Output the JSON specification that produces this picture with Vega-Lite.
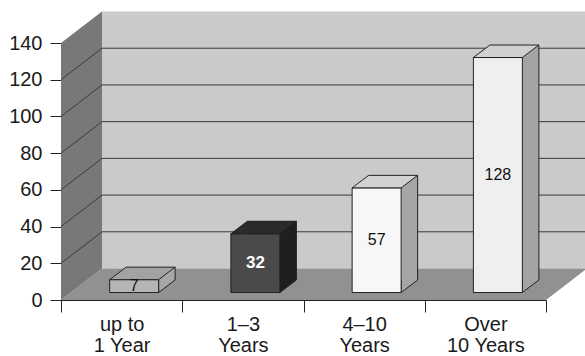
{
  "$schema": "https://vega.github.io/schema/vega-lite/v6.json",
  "width": 485,
  "height": 257,
  "autosize": {"type": "none"},
  "padding": {"left": 61, "top": 43, "right": 39, "bottom": 56},
  "background": "white",
  "config": {
    "view": {"stroke": null},
    "axis": {"grid": false, "labelFont": "Liberation Sans", "labelFontSize": 20, "labelColor": "#1a1a1a", "tickColor": "#222", "domainColor": "#222"}
  },
  "datasets": {
    "counts": [
      {"tenure": "up to 1 Year", "lawyers": 7},
      {"tenure": "1–3 Years", "lawyers": 32},
      {"tenure": "4–10 Years", "lawyers": 57},
      {"tenure": "Over 10 Years", "lawyers": 128}
    ],
    "wall": [{"left": 0, "right": 4, "lo": 0, "hi": 140}],
    "sideWall": [{"depth": 0, "lo": 0, "hi": 140}, {"depth": 0.338, "lo": 17.16, "hi": 157.16}],
    "floor": [{"level": 0, "left": 0, "right": 4}, {"level": 17.16, "left": 0.338, "right": 4.338}],
    "gridlines": [{"v": 20}, {"v": 40}, {"v": 60}, {"v": 80}, {"v": 100}, {"v": 120}]
  },
  "layer": [
    {
      "layer": [
        {
          "data": {"name": "wall"},
          "mark": {"type": "rect", "fill": "#cacaca", "xOffset": 41, "x2Offset": 41, "yOffset": -31.5, "y2Offset": -31.5},
          "encoding": {
            "x": {"field": "left", "type": "quantitative", "scale": {"domain": [0, 4], "nice": false, "zero": false}, "axis": null},
            "x2": {"field": "right"},
            "y": {"field": "lo", "type": "quantitative", "scale": {"domain": [0, 140], "nice": false},
                  "axis": {"values": [0, 20, 40, 60, 80, 100, 120, 140], "tickSize": 11, "labelPadding": 8, "title": null}},
            "y2": {"field": "hi"}
          }
        },
        {
          "data": {"name": "floor"},
          "mark": {"type": "area", "orient": "horizontal", "fill": "#919191"},
          "encoding": {
            "y": {"field": "level", "type": "quantitative", "scale": {"domain": [0, 140], "nice": false},
                  "axis": {"values": [0, 20, 40, 60, 80, 100, 120, 140], "tickSize": 11, "labelPadding": 8, "title": null}},
            "x": {"field": "left", "type": "quantitative", "scale": {"domain": [0, 4], "nice": false, "zero": false}, "axis": null},
            "x2": {"field": "right"}
          }
        },
        {
          "data": {"name": "sideWall"},
          "mark": {"type": "area", "orient": "vertical", "fill": "#787878"},
          "encoding": {
            "x": {"field": "depth", "type": "quantitative", "scale": {"domain": [0, 4], "nice": false, "zero": false}, "axis": null},
            "y": {"field": "lo", "type": "quantitative", "scale": {"domain": [0, 140], "nice": false},
                  "axis": {"values": [0, 20, 40, 60, 80, 100, 120, 140], "tickSize": 11, "labelPadding": 8, "title": null}},
            "y2": {"field": "hi"}
          }
        },
        {
          "data": {"name": "gridlines"},
          "mark": {"type": "rule", "color": "#3a3a3a", "strokeWidth": 1, "xOffset": 41, "x2Offset": 41, "yOffset": -31.5, "y2Offset": -31.5},
          "encoding": {
            "x": {"datum": 0, "type": "quantitative", "scale": {"domain": [0, 4], "nice": false, "zero": false}, "axis": null},
            "x2": {"datum": 4},
            "y": {"field": "v", "type": "quantitative", "scale": {"domain": [0, 140], "nice": false},
                  "axis": {"values": [0, 20, 40, 60, 80, 100, 120, 140], "tickSize": 11, "labelPadding": 8, "title": null}},
            "y2": {"field": "v"}
          }
        },
        {
          "data": {"name": "gridlines"},
          "mark": {"type": "rule", "color": "#3a3a3a", "strokeWidth": 1, "x2Offset": 41, "y2Offset": -31.5},
          "encoding": {
            "x": {"datum": 0, "type": "quantitative", "scale": {"domain": [0, 4], "nice": false, "zero": false}, "axis": null},
            "x2": {"datum": 0},
            "y": {"field": "v", "type": "quantitative", "scale": {"domain": [0, 140], "nice": false},
                  "axis": {"values": [0, 20, 40, 60, 80, 100, 120, 140], "tickSize": 11, "labelPadding": 8, "title": null}},
            "y2": {"field": "v"}
          }
        }
      ]
    },
    {
      "data": {"name": "counts"},
      "encoding": {
        "x": {
          "field": "tenure", "type": "nominal", "sort": null,
          "scale": {"domain": ["up to 1 Year", "1–3 Years", "4–10 Years", "Over 10 Years"], "paddingInner": 0, "paddingOuter": 0},
          "axis": {
            "tickBand": "extent", "tickSize": 12, "labelPadding": 2, "labelLineHeight": 21, "labelAngle": 0, "title": null,
            "labelExpr": "!isString(datum.value) ? '' : datum.value == 'up to 1 Year' ? ['up to', '1 Year'] : datum.value == 'Over 10 Years' ? ['Over', '10 Years'] : split(datum.value, ' ')"
          }
        }
      },
      "layer": [
        {
          "mark": {"type": "bar", "width": 49, "xOffset": 29, "yOffset": -20, "y2Offset": -20},
          "encoding": {
            "y": {"field": "lawyers", "type": "quantitative", "scale": {"domain": [0, 140], "nice": false}, "axis": null},
            "fill": {"field": "tenure", "type": "nominal", "legend": null,
                     "scale": {"domain": ["up to 1 Year", "1–3 Years", "4–10 Years", "Over 10 Years"], "range": ["#a7a7a7", "#1f1f1f", "#a6a6a6", "#a4a4a4"]}}
          }
        },
        {
          "mark": {"type": "point", "shape": "M24.5,-12.5L24.5,0L41,-12.5", "size": 4, "opacity": 1, "stroke": "#222", "strokeWidth": 1, "xOffset": 12.5, "yOffset": -7.5},
          "encoding": {
            "y": {"datum": 0, "type": "quantitative", "scale": {"domain": [0, 140], "nice": false}, "axis": null},
            "fill": {"field": "tenure", "type": "nominal", "legend": null,
                     "scale": {"domain": ["up to 1 Year", "1–3 Years", "4–10 Years", "Over 10 Years"], "range": ["#a7a7a7", "#1f1f1f", "#a6a6a6", "#a4a4a4"]}}
          }
        },
        {
          "mark": {"type": "rule", "color": "#222", "strokeWidth": 1, "xOffset": 53.5, "yOffset": -20, "y2Offset": -20},
          "encoding": {
            "y": {"field": "lawyers", "type": "quantitative", "scale": {"domain": [0, 140], "nice": false}, "axis": null},
            "y2": {"datum": 0}
          }
        },
        {
          "mark": {"type": "bar", "width": 49, "stroke": "#222", "strokeWidth": 1, "xOffset": 12.5, "yOffset": -7.5, "y2Offset": -7.5},
          "encoding": {
            "y": {"field": "lawyers", "type": "quantitative", "scale": {"domain": [0, 140], "nice": false}, "axis": null},
            "fill": {"field": "tenure", "type": "nominal", "legend": null,
                     "scale": {"domain": ["up to 1 Year", "1–3 Years", "4–10 Years", "Over 10 Years"], "range": ["#b5b5b5", "#4a4a4a", "#f7f7f7", "#efefef"]}}
          }
        },
        {
          "mark": {"type": "point", "shape": "M-24.5,0L24.5,0L41,-12.5L-8,-12.5Z", "size": 4, "opacity": 1, "stroke": "#222", "strokeWidth": 1, "xOffset": 12.5, "yOffset": -7.5},
          "encoding": {
            "y": {"field": "lawyers", "type": "quantitative", "scale": {"domain": [0, 140], "nice": false}, "axis": null},
            "fill": {"field": "tenure", "type": "nominal", "legend": null,
                     "scale": {"domain": ["up to 1 Year", "1–3 Years", "4–10 Years", "Over 10 Years"], "range": ["#a2a2a2", "#2b2b2b", "#d2d2d2", "#d0d0d0"]}}
          }
        }
      ],
      "resolve": {"scale": {"fill": "independent"}}
    },
    {
      "data": {"name": "counts"},
      "encoding": {
        "x": {"field": "tenure", "type": "nominal", "sort": null,
              "scale": {"domain": ["up to 1 Year", "1–3 Years", "4–10 Years", "Over 10 Years"], "paddingInner": 0, "paddingOuter": 0}, "axis": null},
        "y": {"field": "lawyers", "type": "quantitative", "scale": {"domain": [0, 280], "nice": false}, "axis": null},
        "text": {"field": "lawyers", "type": "quantitative"}
      },
      "layer": [
        {
          "transform": [{"filter": "datum.tenure != '1–3 Years'"}],
          "mark": {"type": "text", "font": "Liberation Sans", "fontSize": 16, "fill": "#111", "baseline": "middle", "xOffset": 12.5, "yOffset": -7.5}
        },
        {
          "transform": [{"filter": "datum.tenure == '1–3 Years'"}],
          "mark": {"type": "text", "font": "Liberation Sans", "fontSize": 17, "fontWeight": "bold", "fill": "white", "baseline": "middle", "xOffset": 12.5, "yOffset": -7.5}
        }
      ]
    }
  ],
  "resolve": {"scale": {"x": "independent", "y": "independent"}}
}
